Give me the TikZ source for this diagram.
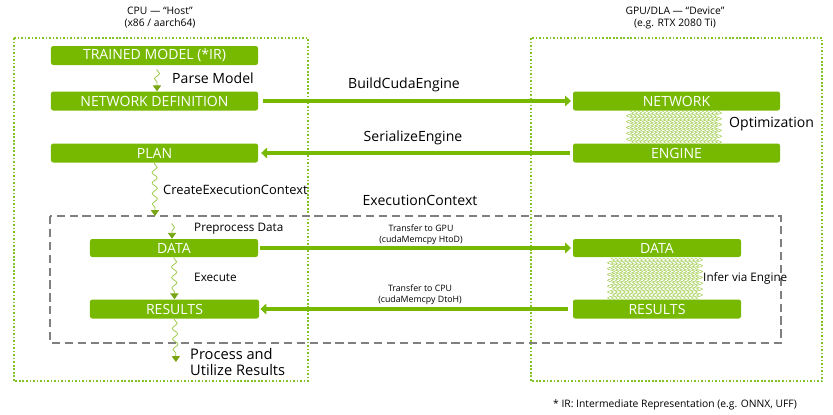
\documentclass[tikz,border=0pt]{standalone}
\usepackage{fontspec}
\setmainfont{Open Sans}
\usetikzlibrary{arrows.meta,decorations.pathmorphing}
\definecolor{nvgreen}{RGB}{118,185,0}
\definecolor{dotgreen}{RGB}{130,195,40}
\definecolor{wavegreen}{RGB}{160,205,80}
\definecolor{tipgreen}{RGB}{120,165,20}
\tikzset{
	gbox/.style={fill=nvgreen,rounded corners=2pt,text=white,inner sep=0pt,minimum height=0.57cm,font=\fontsize{12}{13}\selectfont},
	flow/.style={nvgreen,line width=3pt,-{Triangle[length=5pt,width=9pt]}},
	wiggle/.style={wavegreen,line width=0.7pt,decorate,decoration={snake,amplitude=2.2pt,segment length=9pt,pre length=1pt,post length=4pt},-{Triangle[length=5pt,width=7pt,color=tipgreen]}},
	texture/.style={wavegreen,line width=0.45pt,decorate,decoration={snake,amplitude=3pt,segment length=5pt}},
	hostbox/.style={dotgreen,line width=1.4pt,dash pattern=on 1.4pt off 1.6pt},
	ctxbox/.style={gray,line width=1.6pt,dash pattern=on 7pt off 4pt},
	midtext/.style={inner sep=0pt,font=\fontsize{12}{14}\selectfont},
	smalltext/.style={inner sep=0pt,font=\fontsize{10}{12}\selectfont},
	tinytext/.style={inner sep=0pt,align=center,font=\fontsize{7.5}{9.5}\selectfont},
	headtext/.style={inner sep=0pt,align=center,font=\fontsize{8.8}{10.2}\selectfont},
}
\begin{document}
\begin{tikzpicture}[x=0.03cm,y=-0.03cm]
		\useasboundingbox (0,0) rectangle (833,414);
		\draw[hostbox] (14,38) rectangle (308,381);
		\draw[hostbox] (531,38) rectangle (822,381);
		\draw[ctxbox] (50,216) rectangle (781,343);
		\node[headtext] (host) at (160,18) {CPU — “Host”\\(x86 / aarch64)};
		\node[headtext] (device) at (675,18) {GPU/DLA — “Device”\\(e.g. RTX 2080 Ti)};
		\node[gbox,minimum width=6.21cm] (model) at (154.5,55.5) {TRAINED MODEL (*IR)};
		\node[gbox,minimum width=6.21cm] (netdef) at (154.5,101) {NETWORK DEFINITION};
		\node[gbox,minimum width=6.21cm] (plan) at (154.5,153) {PLAN};
		\node[gbox,minimum width=6.21cm] (network) at (676.5,101) {NETWORK};
		\node[gbox,minimum width=6.21cm] (engine) at (676.5,153) {ENGINE};
		\node[gbox,minimum width=5.04cm,minimum height=0.54cm] (hdata) at (174,248) {DATA};
		\node[gbox,minimum width=5.07cm] (hres) at (174.5,309) {RESULTS};
		\node[gbox,minimum width=5.04cm,minimum height=0.54cm] (ddata) at (657,248) {DATA};
		\node[gbox,minimum width=5.04cm] (dres) at (657,309) {RESULTS};
		\draw[flow,shorten <=4pt,shorten >=1.5pt] (netdef) -- (network);
		\draw[flow,shorten <=2.5pt,shorten >=2.5pt] (engine) -- (plan);
		\draw[flow,shorten <=1.5pt,shorten >=1.5pt] (hdata) -- (ddata);
		\draw[flow,shorten <=4pt,shorten >=1pt] (dres) -- (hres);
		\node[midtext] (build) at (404,85) {BuildCudaEngine};
		\node[midtext] (serial) at (413,138) {SerializeEngine};
		\node[midtext] (ctx) at (420,200) {ExecutionContext};
		\node[tinytext] (togpu) at (421,235) {Transfer to GPU\\(cudaMemcpy HtoD)};
		\node[tinytext] (tocpu) at (420,295) {Transfer to CPU\\(cudaMemcpy DtoH)};
		\coordinate (parsetop) at (157,69);
		\coordinate (ctxtop) at (155,216);
		\coordinate (preptop) at (172,223);
		\coordinate (outend) at (176,362);
		\draw[wiggle] (parsetop) -- (parsetop |- netdef.north);
		\draw[wiggle] (plan.south) -- (ctxtop);
		\draw[wiggle] (preptop) -- (preptop |- hdata.north);
		\draw[wiggle] (hdata.south) -- (hres.north);
		\draw[wiggle] (hres.south) -- (outend);
		\node[midtext,anchor=west] (parse) at (172,78) {Parse Model};
		\node[smalltext,anchor=west,font=\fontsize{11}{13}\selectfont] (create) at (163,190) {CreateExecutionContext};
		\node[smalltext,anchor=west] (prep) at (194,229) {Preprocess Data};
		\node[smalltext,anchor=west] (exec) at (194,277) {Execute};
		\node[midtext,anchor=north west,align=left,font=\fontsize{12.5}{13.6}\selectfont] (process) at (190,348) {Process and\\Utilize Results};
		\foreach \x in {630,634,...,720}
			\draw[texture] (\x,111) -- (\x,144);
		\foreach \x in {611,615,...,700}
			\draw[texture] (\x,258) -- (\x,300);
		\node[midtext,anchor=west] (opt) at (729,124) {Optimization};
		\node[smalltext,anchor=west] (infer) at (703,278) {Infer via Engine};
		\node[headtext] (note) at (675,405) {* IR: Intermediate Representation (e.g. ONNX, UFF)};
\end{tikzpicture}
\end{document}
